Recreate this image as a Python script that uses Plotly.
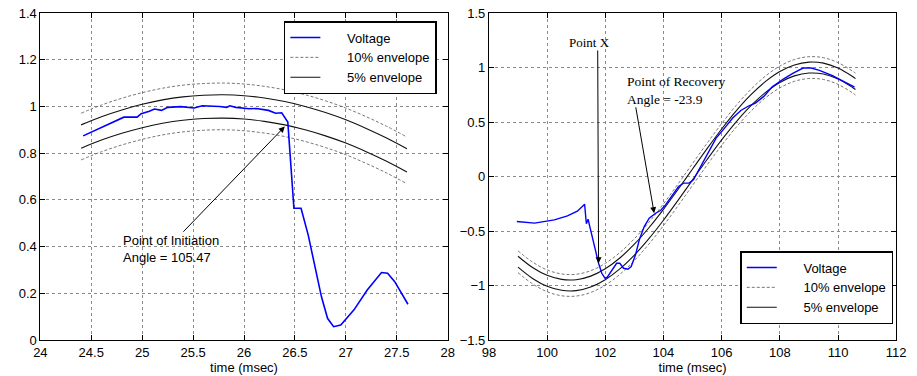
import plotly.graph_objects as go

# ---------------- Left panel data ----------------
t_env_left = [24.4, 24.6, 24.8, 25.0, 25.2, 25.4, 25.6, 25.8, 26.0, 26.2, 26.4,
              26.6, 26.8, 27.0, 27.2, 27.4, 27.6]
up10_left = [0.971, 1.006, 1.035, 1.059, 1.078, 1.091, 1.098, 1.100, 1.096, 1.086, 1.071,
             1.050, 1.024, 0.993, 0.956, 0.915, 0.869]
up5_left = [0.921, 0.956, 0.985, 1.009, 1.028, 1.041, 1.048, 1.050, 1.046, 1.036, 1.021,
            1.000, 0.974, 0.943, 0.906, 0.865, 0.819]
lo5_left = [0.821, 0.856, 0.885, 0.909, 0.928, 0.941, 0.948, 0.950, 0.946, 0.936, 0.921,
            0.900, 0.874, 0.843, 0.806, 0.765, 0.719]
lo10_left = [0.771, 0.806, 0.835, 0.859, 0.878, 0.891, 0.898, 0.900, 0.896, 0.886, 0.871,
             0.850, 0.824, 0.793, 0.756, 0.715, 0.669]

t_volt_left = [24.42, 24.82, 24.87, 24.95, 24.99, 25.07, 25.12, 25.19, 25.25, 25.38, 25.51,
               25.59, 25.76, 25.83, 25.86, 25.92, 26.05, 26.12, 26.24, 26.31, 26.37, 26.43,
               26.49, 26.56, 26.63, 26.69, 26.76, 26.82, 26.88, 26.95, 27.08, 27.21, 27.35,
               27.41, 27.48, 27.61]
v_left = [0.874, 0.954, 0.954, 0.954, 0.969, 0.979, 0.989, 0.983, 0.996, 0.999, 0.993,
          1.003, 1.000, 0.996, 1.003, 0.996, 0.990, 0.991, 0.983, 0.971, 0.973, 0.933,
          0.564, 0.564, 0.450, 0.329, 0.186, 0.093, 0.057, 0.064, 0.129, 0.214, 0.289,
          0.286, 0.250, 0.153]

# ---------------- Right panel data ----------------
t_env_right = [99.0, 99.5, 100.0, 100.5, 101.0, 101.5, 102.0, 102.5, 103.0, 103.5, 104.0,
               104.5, 105.0, 105.5, 106.0, 106.5, 107.0, 107.5, 108.0, 108.5, 109.0,
               109.5, 110.0, 110.5, 110.6]
up10_right = [-0.682, -0.785, -0.857, -0.894, -0.897, -0.864, -0.797, -0.698, -0.571, -0.420,
              -0.251, -0.069, 0.119, 0.306, 0.486, 0.652, 0.798, 0.920, 1.013, 1.073, 1.099,
              1.090, 1.045, 0.967, 0.948]
up5_right = [-0.732, -0.835, -0.907, -0.944, -0.947, -0.914, -0.847, -0.748, -0.621, -0.470,
             -0.301, -0.119, 0.069, 0.256, 0.436, 0.602, 0.748, 0.870, 0.963, 1.023, 1.049,
             1.040, 0.995, 0.917, 0.898]
lo5_right = [-0.832, -0.935, -1.007, -1.044, -1.047, -1.014, -0.947, -0.848, -0.721, -0.570,
             -0.401, -0.219, -0.031, 0.156, 0.336, 0.502, 0.648, 0.770, 0.863, 0.923, 0.949,
             0.940, 0.895, 0.817, 0.798]
lo10_right = [-0.882, -0.985, -1.057, -1.094, -1.097, -1.064, -0.997, -0.898, -0.771, -0.620,
              -0.451, -0.269, -0.081, 0.106, 0.286, 0.452, 0.598, 0.720, 0.813, 0.873, 0.899,
              0.890, 0.845, 0.767, 0.748]

t_volt_right = [98.96, 99.57, 100.25, 100.70, 101.04, 101.29, 101.35, 101.41, 101.45, 101.77,
                101.88, 101.99, 102.07, 102.22, 102.39, 102.50, 102.63, 102.78, 102.89,
                103.04, 103.17, 103.34, 103.51, 103.73, 103.90, 104.07, 104.30, 104.52,
                104.69, 104.88, 105.03, 105.25, 105.53, 105.81, 106.10, 106.38, 106.66,
                106.94, 107.16, 107.45, 107.73, 108.12, 108.46, 108.80, 109.08, 109.36,
                109.81, 110.20, 110.57]
v_right = [-0.413, -0.428, -0.398, -0.361, -0.318, -0.254, -0.434, -0.392, -0.440, -0.796,
           -0.888, -0.933, -0.924, -0.863, -0.796, -0.796, -0.842, -0.851, -0.826,
           -0.719, -0.581, -0.459, -0.382, -0.337, -0.312, -0.260, -0.168, -0.092,
           -0.061, -0.061, -0.031, 0.077, 0.214, 0.352, 0.444, 0.536, 0.606,
           0.649, 0.674, 0.735, 0.820, 0.894, 0.949, 0.995, 0.995, 0.974,
           0.925, 0.872, 0.820]

series_names = ["Voltage", "10% envelope", "5% envelope"]

FONT = "Arial, 'Liberation Sans', sans-serif"
SERIF = "'Times New Roman', 'Liberation Serif', serif"
BLUE = "#0000ff"
DASH_COL = "#555555"
SOLID_COL = "#111111"
PAD = "\u00a0" * 6  # gap between legend sample and legend text

fig = go.Figure()


def add_panel(xa, ya, leg, t_env, up10, up5, lo5, lo10, t_v, v, vwidth):
    for i, yy in enumerate([up10, lo10]):
        fig.add_trace(go.Scatter(x=t_env, y=yy, mode="lines", name=PAD + series_names[1],
                                 line=dict(color=DASH_COL, width=0.8, dash="3px,2px", shape="spline"),
                                 xaxis=xa, yaxis=ya, legend=leg, showlegend=(i == 0),
                                 legendgroup=leg + "d", legendrank=2))
    for i, yy in enumerate([up5, lo5]):
        fig.add_trace(go.Scatter(x=t_env, y=yy, mode="lines", name=PAD + series_names[2],
                                 line=dict(color=SOLID_COL, width=1.1, shape="spline"),
                                 xaxis=xa, yaxis=ya, legend=leg, showlegend=(i == 0),
                                 legendgroup=leg + "s", legendrank=3))
    fig.add_trace(go.Scatter(x=t_v, y=v, mode="lines", name=PAD + series_names[0],
                             line=dict(color=BLUE, width=vwidth),
                             xaxis=xa, yaxis=ya, legend=leg, showlegend=True,
                             legendgroup=leg + "v", legendrank=1))


add_panel("x", "y", "legend", t_env_left, up10_left, up5_left, lo5_left, lo10_left,
          t_volt_left, v_left, 1.6)
add_panel("x2", "y2", "legend2", t_env_right, up10_right, up5_right, lo5_right, lo10_right,
          t_volt_right, v_right, 1.4)

axis_common = dict(
    showline=True, linecolor="black", linewidth=1, mirror="ticks",
    ticks="inside", ticklen=5, tickcolor="black", tickwidth=1,
    showgrid=True, gridcolor="#8a8a8a", griddash="dot", gridwidth=1,
    zeroline=False, tickfont=dict(family=FONT, size=13, color="black"),
)

legend_common = dict(bgcolor="white", bordercolor="black", borderwidth=1.5,
                     font=dict(family=FONT, size=13, color="black"), tracegroupgap=0,
                     traceorder="normal")

fig.update_layout(
    width=917, height=376,
    margin=dict(l=0, r=0, t=13, b=36),
    paper_bgcolor="white", plot_bgcolor="white",
    font=dict(family=FONT, size=13, color="black"),
    xaxis=dict(domain=[34 / 917, 449 / 917], range=[24, 28], dtick=0.5,
               title=dict(text="time (msec)", font=dict(size=13), standoff=2), **axis_common),
    yaxis=dict(range=[0, 1.4], dtick=0.2, anchor="x", **axis_common),
    xaxis2=dict(domain=[491 / 917, 906 / 917], range=[98, 112], dtick=2, anchor="y2",
                title=dict(text="time (msec)", font=dict(size=13), standoff=2), **axis_common),
    yaxis2=dict(range=[-1.5, 1.5], dtick=0.5, anchor="x2", **axis_common),
    legend=dict(x=438 / 917, y=(340 - 21) / 327, xanchor="right", yanchor="top",
                **legend_common),
    legend2=dict(x=903 / 917, y=(340 - 324) / 327, xanchor="right", yanchor="bottom",
                 **legend_common),
)

# ---------------- Annotations ----------------
# Left: Point of Initiation
fig.add_annotation(x=26.40, y=0.914, ax=25.39, ay=0.457, xref="x", yref="y",
                   axref="x", ayref="y", text="", showarrow=True,
                   arrowhead=2, arrowsize=1.2, arrowwidth=1, arrowcolor="black")
fig.add_annotation(x=24.79, y=0.467, xref="x", yref="y", xanchor="left", yanchor="top",
                   align="left", showarrow=False,
                   text="Point of Initiation<br>Angle = 105.47",
                   font=dict(family=FONT, size=13, color="black"))

# Right: Point X
fig.add_annotation(x=101.77, y=-0.796, ax=101.74, ay=1.17, xref="x2", yref="y2",
                   axref="x2", ayref="y2", text="", showarrow=True,
                   arrowhead=2, arrowsize=1.2, arrowwidth=1, arrowcolor="black")
fig.add_annotation(x=101.47, y=1.23, xref="x2", yref="y2", showarrow=False,
                   text="Point X", font=dict(family=SERIF, size=13, color="black"))

# Right: Point of Recovery
fig.add_annotation(x=103.68, y=-0.337, ax=103.04, ay=0.649, xref="x2", yref="y2",
                   axref="x2", ayref="y2", text="", showarrow=True,
                   arrowhead=2, arrowsize=1.2, arrowwidth=1, arrowcolor="black")
fig.add_annotation(x=102.68, y=0.955, xref="x2", yref="y2", xanchor="left", yanchor="top",
                   align="left", showarrow=False,
                   text="Point of Recovery<br>Angle = -23.9",
                   font=dict(family=SERIF, size=13.5, color="black"))

fig.write_html("out.html")
